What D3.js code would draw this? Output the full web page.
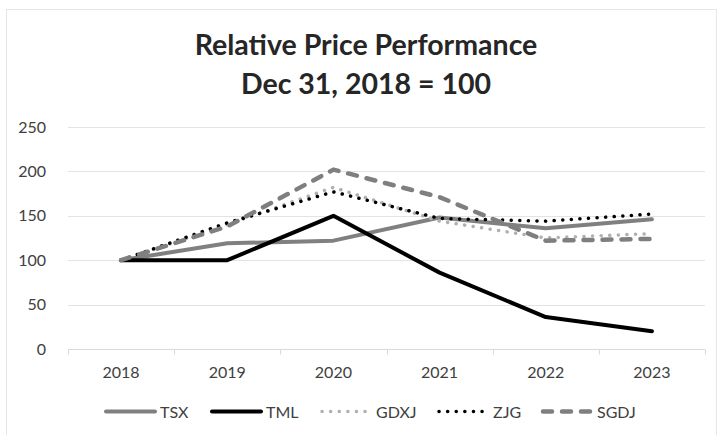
<!DOCTYPE html>
<html lang="en">
<head>
    <meta charset="UTF-8">
    <script src="https://d3js.org/d3.v7.min.js"></script>
    <style>
        body { margin: 0; background: white; }
        text { font-family: Lato, "Open Sans", sans-serif; }
    </style>
</head>
<body>
    <svg id="chart" width="718" height="435"></svg>
    <script>
        // data
        const years = ["2018", "2019", "2020", "2021", "2022", "2023"];
        const yTicks = [0, 50, 100, 150, 200, 250];
        const tsx  = [100, 119, 122, 148, 136, 146];
        const tml  = [100, 100, 150, 86, 36, 20];
        const gdxj = [100, 140, 182, 144, 125, 130];
        const zjg  = [100, 142, 177, 147, 144, 152];
        const sgdj = [100, 138, 202, 171, 122, 124];

        const series = [
            { name: "TSX",  values: tsx,  color: "#808080", width: 4,   dash: null,    cap: "round" },
            { name: "TML",  values: tml,  color: "#000000", width: 4,   dash: null,    cap: "round" },
            { name: "GDXJ", values: gdxj, color: "#b0b0b0", width: 3.5, dash: "0.1 8.5", cap: "round" },
            { name: "ZJG",  values: zjg,  color: "#000000", width: 3.5, dash: "0.1 8.5", cap: "round" },
            { name: "SGDJ", values: sgdj, color: "#7f7f7f", width: 4.5, dash: "9 10",  cap: "round" }
        ];

        const width = 718, height = 435;
        const margin = { top: 127, right: 13, bottom: 86, left: 68 };

        const svg = d3.select("#chart");

        // chart border
        svg.append("rect")
            .attr("x", 6.5).attr("y", 9.5)
            .attr("width", 710).attr("height", 440)
            .attr("fill", "white")
            .attr("stroke", "#e6e6e6");

        // title
        const title = svg.append("text")
            .attr("x", 366)
            .attr("text-anchor", "middle")
            .style("font-size", "28.5px")
            .style("font-weight", "bold")
            .style("fill", "#262626");
        title.append("tspan").attr("x", 366).attr("y", 55).text("Relative Price Performance");
        title.append("tspan").attr("x", 366).attr("y", 94).text("Dec 31, 2018 = 100");

        const x = d3.scaleBand()
            .domain(years)
            .range([margin.left, width - margin.right])
            .padding(0);

        const y = d3.scaleLinear()
            .domain([0, 250])
            .range([height - margin.bottom, margin.top]);

        // gridlines
        svg.append("g")
            .selectAll("line")
            .data(yTicks.filter(d => d > 0))
            .enter().append("line")
            .attr("x1", margin.left)
            .attr("x2", width - margin.right)
            .attr("y1", d => Math.round(y(d)) + 0.5)
            .attr("y2", d => Math.round(y(d)) + 0.5)
            .attr("stroke", "#e3e3e3");

        // y labels
        svg.append("g")
            .selectAll("text")
            .data(yTicks)
            .enter().append("text")
            .attr("x", 46)
            .attr("y", d => y(d) + 5.5)
            .attr("text-anchor", "end")
            .style("font-size", "16px")
            .style("fill", "#404040")
            .text(d => d);

        // x axis
        const xAxis = svg.append("g")
            .attr("transform", `translate(0,${Math.round(y(0)) + 0.5})`);
        xAxis.append("line")
            .attr("x1", margin.left).attr("x2", width - margin.right)
            .attr("stroke", "#d9d9d9");
        const bounds = years.map(d => x(d)).concat([width - margin.right]);
        xAxis.selectAll(".tick")
            .data(bounds)
            .enter().append("line")
            .attr("x1", d => Math.round(d) + 0.5)
            .attr("x2", d => Math.round(d) + 0.5)
            .attr("y1", 0).attr("y2", 5)
            .attr("stroke", "#d9d9d9");
        xAxis.selectAll("text")
            .data(years)
            .enter().append("text")
            .attr("x", d => x(d) + x.bandwidth() / 2)
            .attr("y", 28)
            .attr("text-anchor", "middle")
            .style("font-size", "16px")
            .style("fill", "#404040")
            .text(d => d);

        // lines
        const line = d3.line()
            .x((d, i) => x(years[i]) + x.bandwidth() / 2)
            .y(d => y(d));

        svg.append("g")
            .selectAll("path")
            .data(series)
            .enter().append("path")
            .attr("d", d => line(d.values))
            .attr("fill", "none")
            .attr("stroke", d => d.color)
            .attr("stroke-width", d => d.width)
            .attr("stroke-linecap", d => d.cap)
            .attr("stroke-linejoin", "round")
            .attr("stroke-dasharray", d => d.dash);

        // legend
        const legendX = [104, 210, 320, 437, 541];
        const legend = svg.append("g")
            .selectAll("g")
            .data(series)
            .enter().append("g")
            .attr("transform", (d, i) => `translate(${legendX[i]},411.5)`);
        legend.append("line")
            .attr("x1", 2).attr("x2", 51)
            .attr("stroke", d => d.color)
            .attr("stroke-width", d => d.width)
            .attr("stroke-linecap", d => d.cap)
            .attr("stroke-dasharray", d => d.dash);
        legend.append("text")
            .attr("x", 56)
            .attr("y", 6.5)
            .style("font-size", "16px")
            .style("fill", "#404040")
            .text(d => d.name);
    </script>
</body>
</html>
